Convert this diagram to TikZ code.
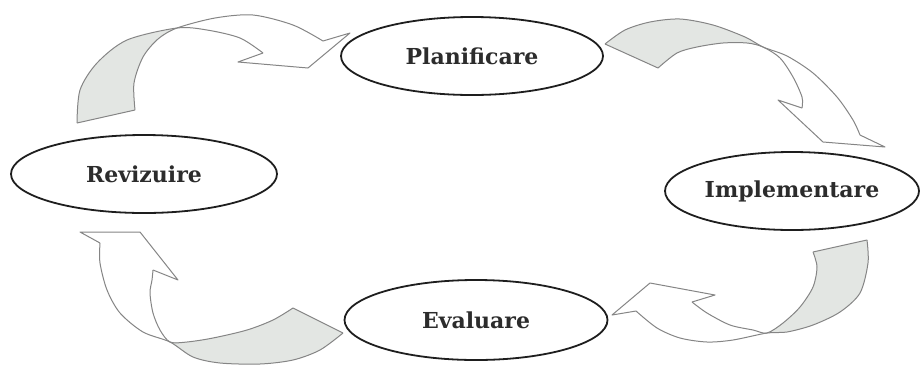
\documentclass[tikz,border=0pt]{standalone}
\usepackage{fontspec}
\setmainfont{DejaVu Serif}
\usetikzlibrary{shapes.geometric}
\definecolor{edgegray}{HTML}{858585}
\definecolor{shadegray}{HTML}{E3E6E3}
\definecolor{ringcol}{HTML}{1E1E1E}
\definecolor{txtcol}{HTML}{2C2C2C}
\begin{document}
\begin{tikzpicture}[x=1pt,y=-1pt,
  stage/.style={ellipse, draw=ringcol, line width=1.8pt, fill=white, inner sep=0pt,
    text=txtcol, font=\fontsize{22}{26}\selectfont\bfseries},
  edge/.style={draw=edgegray, line width=1pt, line join=round},
  back/.style={fill=shadegray},
  front/.style={fill=white}]
\useasboundingbox (0,0) rectangle (920,365);

% ---------- arrow 1 : Revizuire -> Planificare ----------
\path[back] (77,123) -- plot[smooth] coordinates {(77,123) (80,90) (97,63) (127,40) (177,28)}
  -- plot[smooth] coordinates {(177,28) (158,39) (143,57) (134,83) (135,110)} -- cycle;
\path[front] plot[smooth] coordinates {(177,28) (215,18) (253,15) (293,25) (323,41)}
  -- (350,33) -- (308,68) -- (238,62) -- (263,53)
  -- plot[smooth] coordinates {(263,53) (240,38) (207,30) (177,28)} -- cycle;
\draw[edge] plot[smooth] coordinates {(135,110) (134,83) (143,57) (158,39) (177,28) (215,18) (253,15) (293,25) (323,41)};
\draw[edge] plot[smooth] coordinates {(77,123) (80,90) (97,63) (127,40) (177,28) (207,30) (240,38) (263,53)};
\draw[edge] (77,123) -- (135,110);
\draw[edge] (323,41) -- (350,33) -- (308,68) -- (238,62) -- (263,53);

% ---------- arrow 2 : Planificare -> Implementare ----------
\path[back] plot[smooth] coordinates {(605,44) (625,30) (650,22) (680,19) (713,25) (745,37) (763,47)}
  -- plot[smooth] coordinates {(763,47) (747,43) (723,43) (697,47) (677,53) (658,68)} -- cycle;
\path[front] plot[smooth] coordinates {(763,47) (787,56) (813,73) (837,97) (853,120) (860,135)}
  -- (885,147) -- (823,142) -- (778,100) -- (802,108)
  -- plot[smooth] coordinates {(802,108) (802,97) (793,77) (780,58) (763,47)} -- cycle;
\draw[edge] plot[smooth] coordinates {(605,44) (625,30) (650,22) (680,19) (713,25) (745,37) (763,47) (787,56) (813,73) (837,97) (853,120) (860,135)};
\draw[edge] plot[smooth] coordinates {(658,68) (677,53) (697,47) (723,43) (747,43) (763,47) (780,58) (793,77) (802,97) (802,108)};
\draw[edge] (605,44) -- (658,68);
\draw[edge] (860,135) -- (885,147) -- (823,142) -- (778,100) -- (802,108);

% ---------- arrow 3 : Implementare -> Evaluare ----------
\path[back] plot[smooth] coordinates {(867,240) (868,263) (860,293) (840,312) (813,325) (787,332) (767,333)}
  -- plot[smooth] coordinates {(767,333) (783,323) (800,307) (813,287) (817,267) (813,252)} -- cycle;
\path[front] plot[smooth] coordinates {(767,333) (733,340) (707,342) (680,338) (657,328) (636,311)}
  -- (612,315) -- (650,283) -- (715,295) -- (692,302)
  -- plot[smooth] coordinates {(692,302) (707,313) (730,325) (753,330) (767,333)} -- cycle;
\draw[edge] plot[smooth] coordinates {(867,240) (868,263) (860,293) (840,312) (813,325) (787,332) (767,333) (733,340) (707,342) (680,338) (657,328) (636,311)};
\draw[edge] plot[smooth] coordinates {(813,252) (817,267) (813,287) (800,307) (783,323) (767,333) (753,330) (730,325) (707,313) (692,302)};
\draw[edge] (867,240) -- (813,252);
\draw[edge] (636,311) -- (612,315) -- (650,283) -- (715,295) -- (692,302);

% ---------- arrow 4 : Evaluare -> Revizuire ----------
\path[back] plot[smooth] coordinates {(343,333) (320,350) (293,360) (260,364) (220,363) (193,357) (170,342)}
  -- plot[smooth] coordinates {(170,342) (187,342) (213,338) (247,330) (273,320) (293,308)} -- cycle;
\path[front] plot[smooth] coordinates {(170,342) (143,332) (120,313) (107,290) (100,263) (100,243)}
  -- (80,232) -- (140,232) -- (178,280) -- (153,270)
  -- plot[smooth] coordinates {(153,270) (152,280) (150,293) (153,313) (160,330) (170,342)} -- cycle;
\draw[edge] plot[smooth] coordinates {(343,333) (320,350) (293,360) (260,364) (220,363) (193,357) (170,342) (143,332) (120,313) (107,290) (100,263) (100,243)};
\draw[edge] plot[smooth] coordinates {(293,308) (273,320) (247,330) (213,338) (187,342) (170,342) (160,330) (153,313) (150,293) (152,280) (153,270)};
\draw[edge] (343,333) -- (293,308);
\draw[edge] (100,243) -- (80,232) -- (140,232) -- (178,280) -- (153,270);

% ---------- stages ----------
\node[stage, minimum width=262pt, minimum height=78pt] (plan) at (472,56) {Planificare};
\node[stage, minimum width=266pt, minimum height=78pt] (rev) at (144,174) {Revizuire};
\node[stage, minimum width=254pt, minimum height=78pt] (impl) at (792,191) {Implementare};
\node[stage, minimum width=263pt, minimum height=80pt] (eval) at (476,320) {Evaluare};
\end{tikzpicture}
\end{document}
